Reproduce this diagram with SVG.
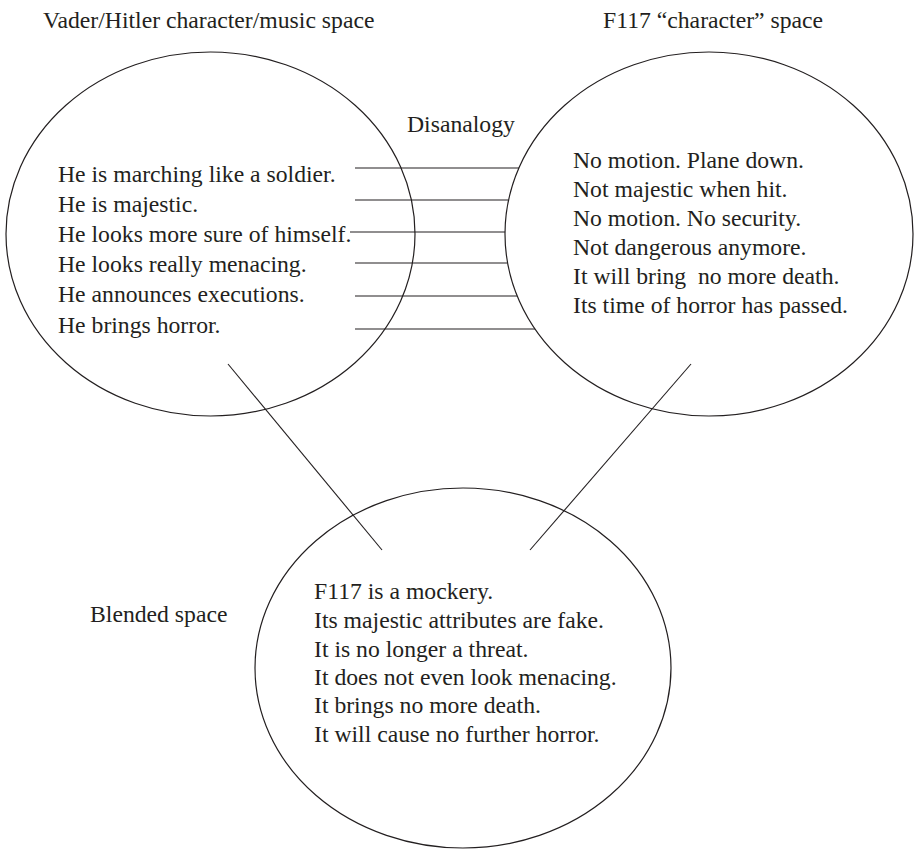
<svg xmlns="http://www.w3.org/2000/svg" width="917" height="850" viewBox="0 0 917 850">
  <style>
    text { font-family: "Liberation Serif", "Times New Roman", serif; font-size: 23.7px; fill: #231f20; }
    .space { fill: none; stroke: #231f20; stroke-width: 1.2; }
    .link { stroke: #231f20; stroke-width: 1.1; fill: none; }
  </style>
  <rect width="917" height="850" fill="#ffffff"/>

  <!-- Connectors: disanalogy mappings and projections into the blend -->
  <g id="connectors">
    <line class="link" x1="355" y1="168" x2="519" y2="168"/>
    <line class="link" x1="355" y1="200" x2="508" y2="200"/>
    <line class="link" x1="350" y1="232" x2="505" y2="232"/>
    <line class="link" x1="355" y1="263" x2="507" y2="263"/>
    <line class="link" x1="355" y1="296" x2="517" y2="296"/>
    <line class="link" x1="355" y1="329" x2="535" y2="329"/>
    <line class="link" x1="228" y1="364" x2="382" y2="550"/>
    <line class="link" x1="691" y1="364" x2="530" y2="550"/>
  </g>

  <!-- Input space 1 -->
  <g id="vader-space">
    <ellipse class="space" cx="210.5" cy="234" rx="204.5" ry="182"/>
    <text x="43" y="28">Vader/Hitler character/music space</text>
    <text x="58" y="182">He is marching like a soldier.</text>
    <text x="58" y="212">He is majestic.</text>
    <text x="58" y="242">He looks more sure of himself.</text>
    <text x="58" y="272">He looks really menacing.</text>
    <text x="58" y="302">He announces executions.</text>
    <text x="58" y="333">He brings horror.</text>
  </g>

  <!-- Input space 2 -->
  <g id="f117-space">
    <ellipse class="space" cx="709" cy="234" rx="204" ry="182"/>
    <text x="603" y="28">F117 “character” space</text>
    <text x="573" y="168">No motion. Plane down.</text>
    <text x="573" y="197">Not majestic when hit.</text>
    <text x="573" y="226">No motion. No security.</text>
    <text x="573" y="255">Not dangerous anymore.</text>
    <text x="573" y="284" xml:space="preserve">It will bring  no more death.</text>
    <text x="573" y="313">Its time of horror has passed.</text>
  </g>

  <g id="disanalogy-label">
    <text x="407" y="132">Disanalogy</text>
  </g>

  <!-- Blended space -->
  <g id="blended-space">
    <ellipse class="space" cx="463" cy="668" rx="208" ry="180"/>
    <text x="90" y="622">Blended space</text>
    <text x="314" y="599">F117 is a mockery.</text>
    <text x="314" y="628">Its majestic attributes are fake.</text>
    <text x="314" y="657">It is no longer a threat.</text>
    <text x="314" y="685">It does not even look menacing.</text>
    <text x="314" y="713">It brings no more death.</text>
    <text x="314" y="742">It will cause no further horror.</text>
  </g>
</svg>
